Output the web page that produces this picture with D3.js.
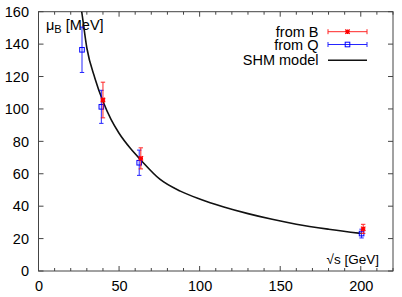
<!doctype html>
<html>
<head>
  <meta charset="utf8">
  <title>mu_B vs sqrt(s)</title>
  <style>
    body { margin: 0; padding: 0; background: #fff; }
    svg { display: block; font-family: "Liberation Sans", Arial, sans-serif; }
  </style>
</head>
<body>
  <svg></svg>
  <script src="https://d3js.org/d3.v7.min.js"></script>
  <script>
    // points from B (red)
    const bSqrtS = [40, 63.5, 201.5]
    const bMu = [105.5, 69.5, 26]
    const bErr = [11, 6.5, 2.8]

    // points from Q (blue)
    const qSqrtS = [27, 39, 62.5, 200.5]
    const qMu = [136.5, 101.3, 66.8, 23.1]
    const qErr = [14, 10.2, 7.8, 2.7]

    // SHM model curve
    const shmSqrtS = [25.5, 26.8, 30, 35, 40, 45, 50, 57, 63.5, 75.5, 88, 100, 115, 130, 145, 160, 180, 200]
    const shmMu = [168, 160, 137.6, 119, 104.7, 93.5, 85, 75.7, 68.5, 56.5, 49.3, 44.4, 39.5, 35.4, 31.9, 28.9, 25.8, 23.2]

    const xTicks = [0, 50, 100, 150, 200]
    const yTicks = [0, 20, 40, 60, 80, 100, 120, 140, 160]

    const width = 402
    const height = 297
    const margin = { left: 38.5, right: 9, top: 11.7, bottom: 26 }

    const svg = d3.select('svg')
      .attr('width', width)
      .attr('height', height)

    const x = d3.scaleLinear().domain([0, 220]).range([margin.left, width - margin.right])
    const y = d3.scaleLinear().domain([0, 160]).range([height - margin.bottom, margin.top])

    const [x0, x1] = x.range()
    const [y0, y1] = y.range()

    svg.append('defs').append('clipPath').attr('id', 'plot')
      .append('rect')
      .attr('x', x0).attr('y', y1)
      .attr('width', x1 - x0).attr('height', y0 - y1)

    const axisColor = '#444'

    // ticks
    const ticks = svg.append('g').style('stroke', axisColor).style('stroke-width', 1)
    d3.range(0, 221, 10).forEach(v => {
      const len = v % 50 === 0 ? 5 : 3
      ticks.append('line').attr('x1', x(v)).attr('x2', x(v)).attr('y1', y0).attr('y2', y0 - len)
      ticks.append('line').attr('x1', x(v)).attr('x2', x(v)).attr('y1', y1).attr('y2', y1 + len)
    })
    yTicks.forEach(v => {
      ticks.append('line').attr('x1', x0).attr('x2', x0 + 5).attr('y1', y(v)).attr('y2', y(v))
      ticks.append('line').attr('x1', x1).attr('x2', x1 - 5).attr('y1', y(v)).attr('y2', y(v))
    })

    // frame
    svg.append('rect')
      .attr('x', x0).attr('y', y1)
      .attr('width', x1 - x0).attr('height', y0 - y1)
      .style('fill', 'none').style('stroke', axisColor).style('stroke-width', 1)

    // tick labels
    svg.append('g').selectAll('text').data(xTicks).join('text')
      .attr('x', d => x(d) + 0.5).attr('y', 291)
      .attr('text-anchor', 'middle')
      .style('font-size', '14.5px')
      .text(d => d)

    svg.append('g').selectAll('text').data(yTicks).join('text')
      .attr('x', 29).attr('y', d => y(d) + 5.2)
      .attr('text-anchor', 'end')
      .style('font-size', '14.5px')
      .text(d => d)

    // axis titles
    const yt = svg.append('text').attr('x', 46).attr('y', 30).style('font-size', '14.5px')
    yt.append('tspan').text('μ')
    yt.append('tspan').attr('dy', 3).style('font-size', '11px').text('B')
    yt.append('tspan').attr('dy', -3).text(' [MeV]')

    svg.append('text').attr('x', 379).attr('y', 263.5)
      .attr('text-anchor', 'end').style('font-size', '13.5px')
      .text('√s [GeV]')

    // model curve
    const line = d3.line().x(d => x(d[0])).y(d => y(d[1])).curve(d3.curveMonotoneX)
    svg.append('path')
      .attr('clip-path', 'url(#plot)')
      .attr('d', line(d3.zip(shmSqrtS, shmMu)))
      .style('fill', 'none').style('stroke', '#111').style('stroke-width', 1.6)

    function errorBar (g, cx, lo, hi, color) {
      g.append('line').attr('x1', cx).attr('x2', cx).attr('y1', lo).attr('y2', hi)
      g.append('line').attr('x1', cx - 2.2).attr('x2', cx + 2.2).attr('y1', lo).attr('y2', lo)
      g.append('line').attr('x1', cx - 2.2).attr('x2', cx + 2.2).attr('y1', hi).attr('y2', hi)
      g.style('stroke', color).style('stroke-width', 1).style('opacity', 0.85)
    }

    function star (g, cx, cy, color) {
      const r = 2.2
      g.append('path')
        .attr('d', `M${cx - r},${cy}L${cx + r},${cy}M${cx},${cy - r}L${cx},${cy + r}` +
          `M${cx - r},${cy - r}L${cx + r},${cy + r}M${cx - r},${cy + r}L${cx + r},${cy - r}`)
        .style('stroke', color).style('stroke-width', 1.3).style('fill', 'none')
    }

    function square (g, cx, cy, color) {
      g.append('rect').attr('x', cx - 2.3).attr('y', cy - 2.3).attr('width', 4.6).attr('height', 4.6)
        .style('fill', 'none').style('stroke', color).style('stroke-width', 1)
    }

    const points = svg.append('g').attr('clip-path', 'url(#plot)')
    qSqrtS.forEach((s, i) => {
      errorBar(points.append('g'), x(s), y(qMu[i] - qErr[i]), y(qMu[i] + qErr[i]), '#0000ff')
      square(points, x(s), y(qMu[i]), '#0000ff')
    })
    bSqrtS.forEach((s, i) => {
      errorBar(points.append('g'), x(s), y(bMu[i] - bErr[i]), y(bMu[i] + bErr[i]), '#ff0000')
      star(points, x(s), y(bMu[i]), '#ff0000')
    })

    // legend
    const legend = svg.append('g')
    const lx0 = 328
    const lx1 = 367
    const entries = [
      { label: 'from B', yy: 31.7, color: '#ff0000', kind: 'star' },
      { label: 'from Q', yy: 44.5, color: '#0000ff', kind: 'square' },
      { label: 'SHM model', yy: 60.3, color: '#111', kind: 'line' }
    ]
    entries.forEach(e => {
      legend.append('text').attr('x', 318.5).attr('y', e.yy + 5)
        .attr('text-anchor', 'end').style('font-size', '14.5px').text(e.label)
      if (e.kind === 'line') {
        legend.append('line').attr('x1', lx0).attr('x2', lx1).attr('y1', e.yy).attr('y2', e.yy)
          .style('stroke', e.color).style('stroke-width', 1.6)
      } else {
        const g = legend.append('g').style('stroke', e.color).style('stroke-width', 1).style('opacity', 0.85)
        g.append('line').attr('x1', lx0).attr('x2', lx1).attr('y1', e.yy).attr('y2', e.yy)
        g.append('line').attr('x1', lx0).attr('x2', lx0).attr('y1', e.yy - 2.5).attr('y2', e.yy + 2.5)
        g.append('line').attr('x1', lx1).attr('x2', lx1).attr('y1', e.yy - 2.5).attr('y2', e.yy + 2.5)
        const cx = (lx0 + lx1) / 2
        if (e.kind === 'star') star(legend, cx, e.yy, e.color)
        else square(legend, cx, e.yy, e.color)
      }
    })
  </script>
</body>
</html>
